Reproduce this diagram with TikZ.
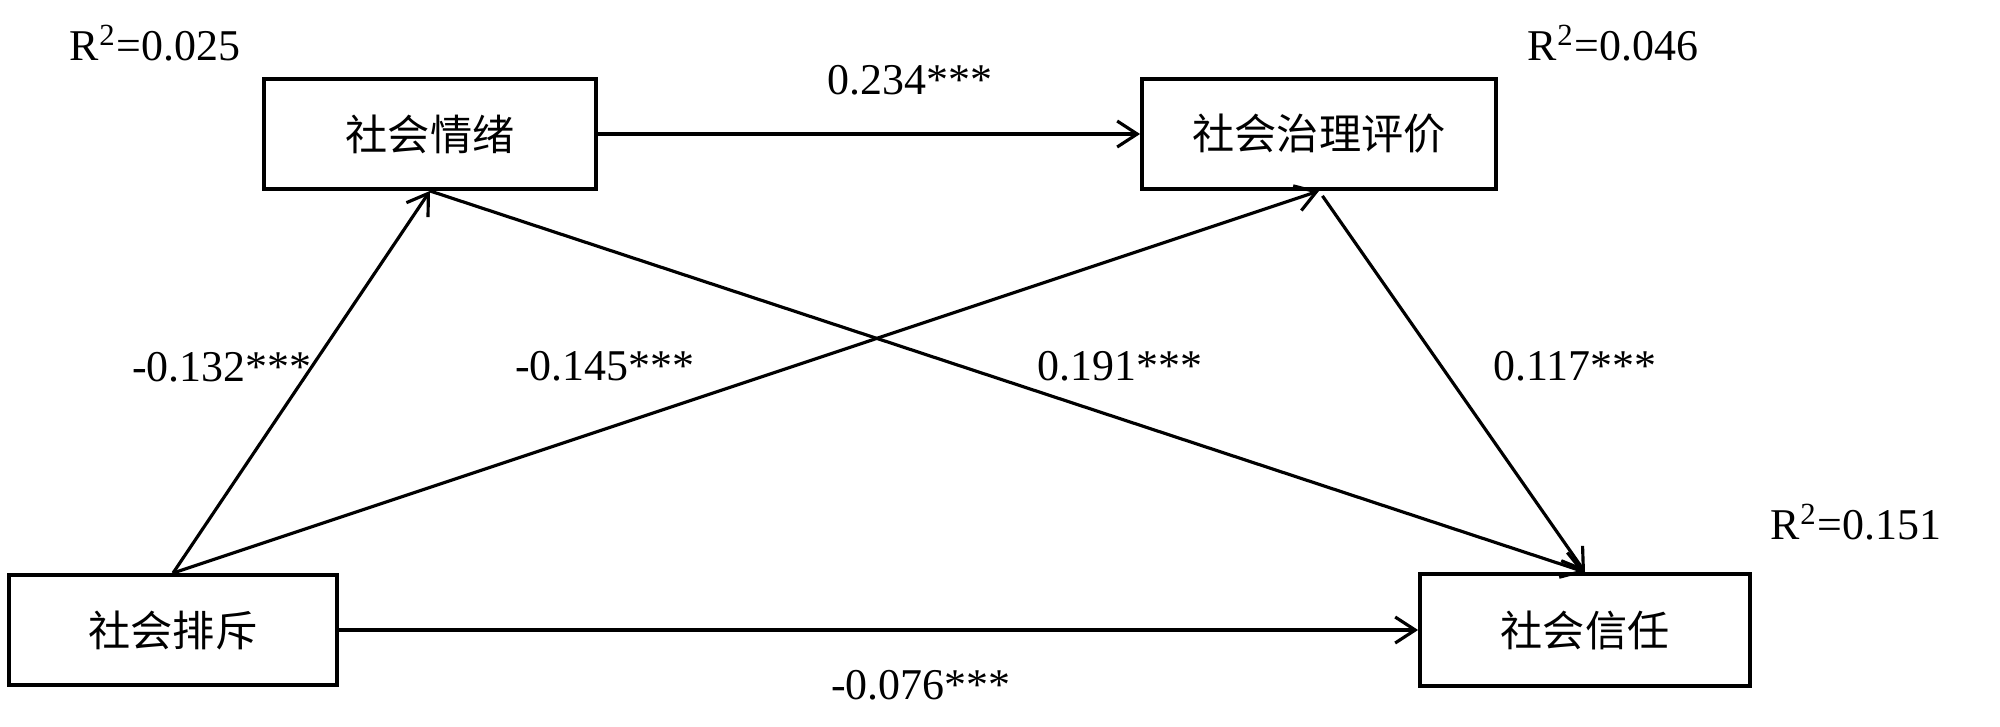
\documentclass[tikz,border=0pt]{standalone}
\usepackage{fontspec}
\setmainfont{Liberation Serif}
\newfontfamily\cjk{Noto Sans CJK SC}
\usetikzlibrary{arrows.meta}
\begin{document}
\begin{tikzpicture}[
  box/.style={draw, line width=1.1pt, minimum height=1.10cm, inner sep=0pt, font=\cjk\fontsize{12}{14}\selectfont},
  conn/.style={line width=0.9pt, -{Straight Barb[length=2mm,width=2.6mm,line width=0.9pt]}},
  lbl/.style={font=\fontsize{12.5}{14}\selectfont, inner sep=0pt}
]
\useasboundingbox (0,0) rectangle (20,7.26);
\node[box, minimum width=3.32cm] (emo) at (4.30,5.92) {社会情绪};
\node[box, minimum width=3.54cm] (gov) at (13.19,5.92) {社会治理评价};
\node[box, minimum width=3.28cm] (exc) at (1.73,0.96) {社会排斥};
\node[box, minimum width=3.30cm, minimum height=1.12cm] (tru) at (15.85,0.96) {社会信任};

\draw[conn] (emo.east) -- (gov.west);
\draw[conn] (exc.north) -- (emo.south);
\draw[conn] (exc.north) -- (gov.south);
\draw[conn] (emo.south) -- (tru.north);
\draw[conn, shorten <=0.06cm] (gov.south) -- (tru.north);
\draw[conn] (exc.east) -- (tru.west);

\node[lbl] (l1) at (9.10,6.46) {0.234***};
\node[lbl] (l2) at (2.22,3.59) {-0.132***};
\node[lbl] (l3) at (6.05,3.60) {-0.145***};
\node[lbl] (l4) at (11.20,3.60) {0.191***};
\node[lbl] (l5) at (15.75,3.60) {0.117***};
\node[lbl] (l6) at (9.21,0.41) {-0.076***};
\node[lbl] (r1) at (1.55,6.83) {R\textsuperscript{2}=0.025};
\node[lbl] (r2) at (16.13,6.83) {R\textsuperscript{2}=0.046};
\node[lbl] (r3) at (18.56,2.04) {R\textsuperscript{2}=0.151};
\end{tikzpicture}
\end{document}
